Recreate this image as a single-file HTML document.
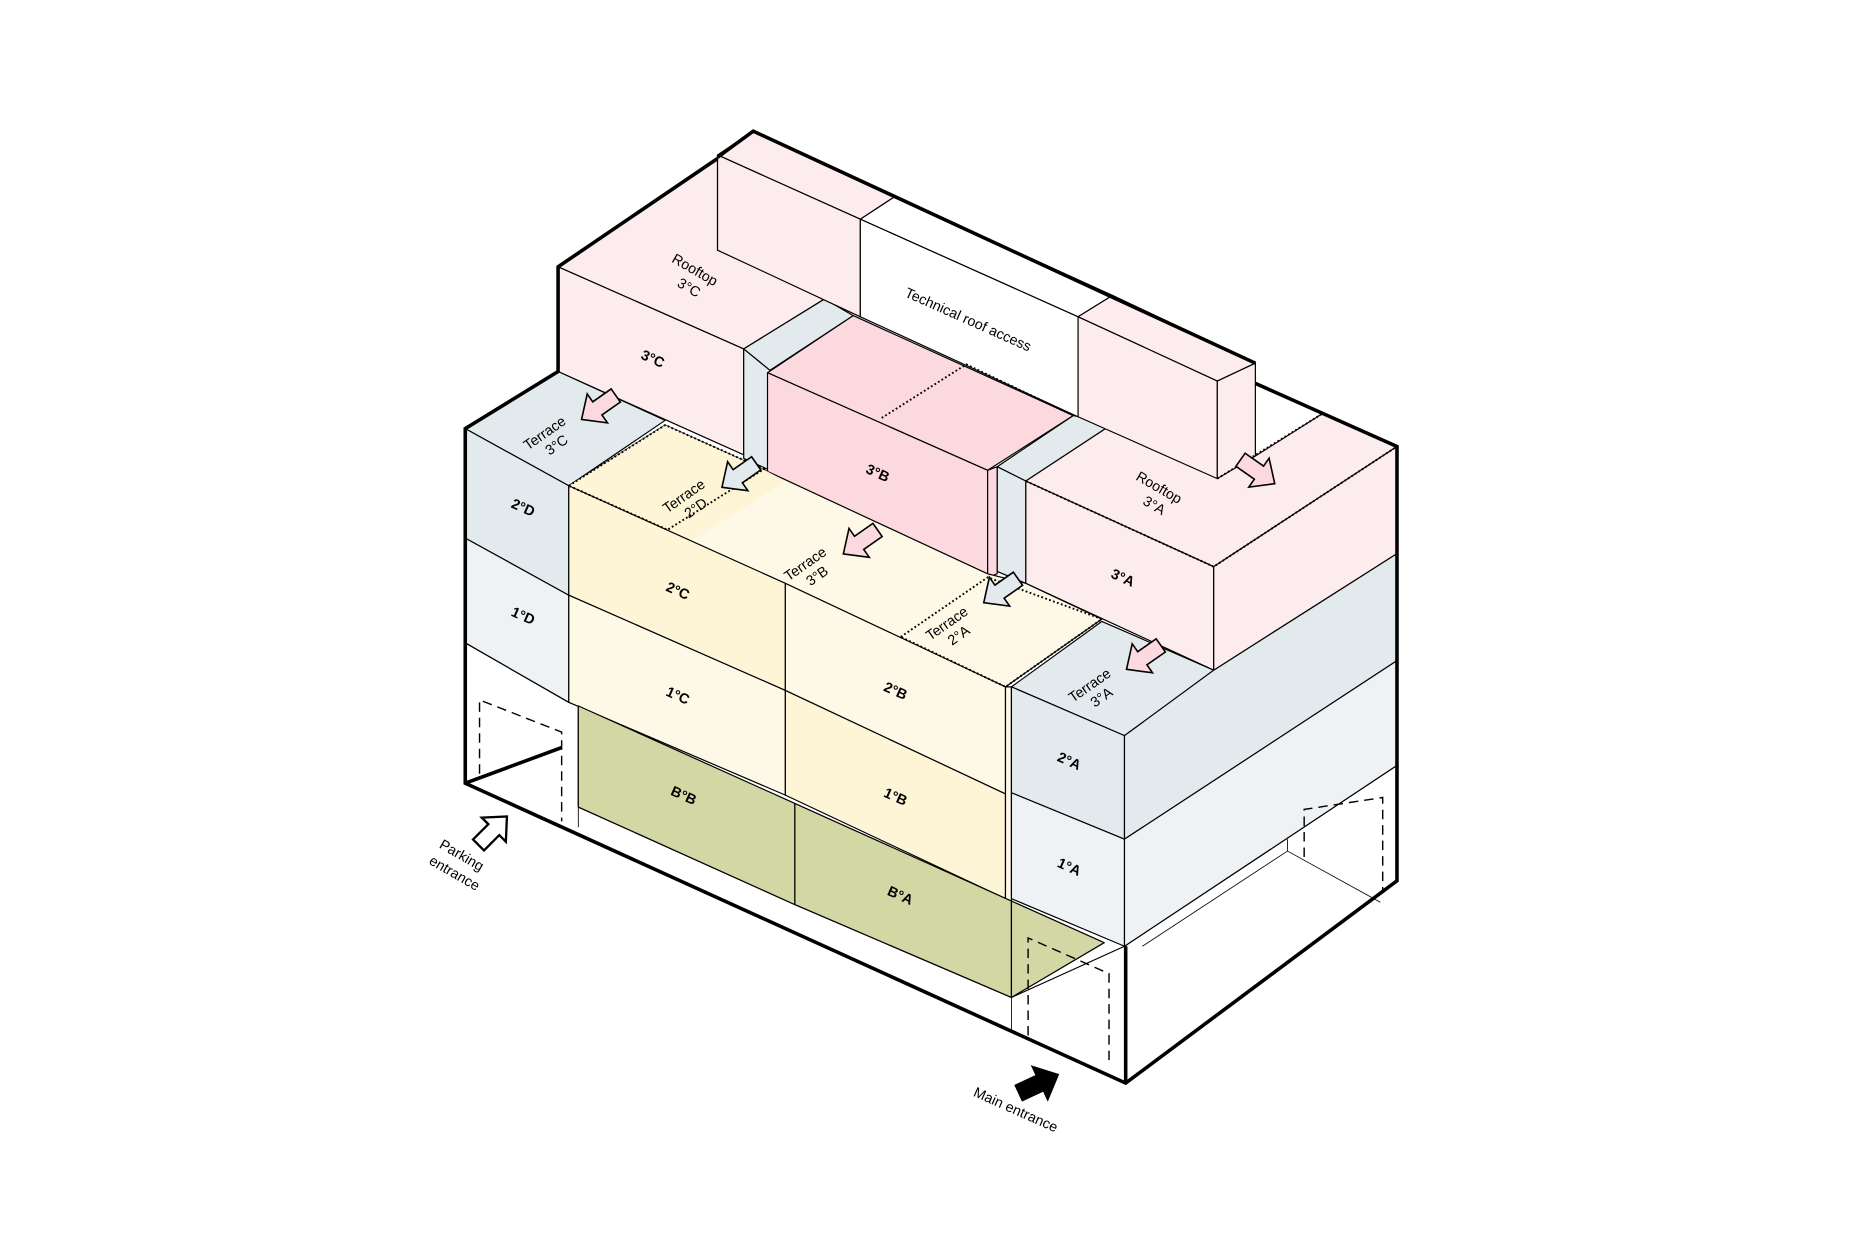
<!DOCTYPE html>
<html><head><meta charset="utf-8"><style>html,body{margin:0;padding:0;background:#fff}svg{display:block}</style></head>
<body>
<svg width="1867" height="1244" viewBox="0 0 1569 1045" xmlns="http://www.w3.org/2000/svg" font-family="Liberation Sans, sans-serif">
<defs>
<path id="arr" d="M-5,-14 L5,-14 L5,0 L11,0 L0,12 L-11,0 L-5,0 Z"/>
</defs>
<g stroke="#000" stroke-width="1" stroke-linejoin="round">
<polygon points="391,540 478,590 486,593 486,678 668,760 850,838 945,795 1174,643 1174,740 946,910 391,658" fill="#fff"/>
<polygon points="469,224 603,133 603,210 693,251 625,293" fill="#fdeced"/>
<polygon points="469,224 625,293 625,382 469,312" fill="#fdeced"/>
<polygon points="625,293 693,251 717,265 647,311" fill="#e3eaed"/>
<polygon points="625,293 647,311 647,395 625,385" fill="#e3eaed"/>
<polygon points="862,404 935,356 1055,383 1112,347 1174,375 1020,476" fill="#fdeced"/>
<polygon points="862,404 1020,476 1020,563 862,490" fill="#fdeced"/>
<polygon points="1020,476 1174,375 1174,465 1020,563" fill="#fdeced"/>
<polygon points="838,392 902,349 935,356 862,404" fill="#e3eaed"/>
<polygon points="838,392 862,404 862,490 838,480" fill="#e3eaed"/>
<polygon points="645,313 717,265 902,349 830,395" fill="#fbd9df"/>
<polygon points="645,313 830,395 830,485 645,400" fill="#fbd9df"/>
<polygon points="830,395 838,392 838,482 830,485" fill="#fbd9df"/>
<polygon points="603,130 633,110 752,165 723,184" fill="#fdeced"/>
<polygon points="603,130 723,184 723,266 603,210" fill="#fdeced"/>
<polygon points="723,184 752,165 935,248 906,266" fill="#fff"/>
<polygon points="723,184 906,266 906,350 723,266" fill="#fff"/>
<polygon points="906,266 935,248 1055,305 1023,320" fill="#fdeced"/>
<polygon points="906,266 1023,320 1023,402 906,350" fill="#fdeced"/>
<polygon points="1023,320 1055,305 1055,383 1023,402" fill="#fdeced"/>
<polygon points="391,360 469,312 559,353 478,408" fill="#e3eaed"/>
<polygon points="391,360 478,408 478,500 391,452" fill="#e3eaed"/>
<polygon points="391,452 478,500 478,590 391,540" fill="#eef2f5"/>
<polygon points="478,408 559,357 645,396 830,482 862,490 926,520 845,577" fill="#fdf9e6"/>
<polygon points="478,408 559,357 645,396 660,404 580,455" fill="#fdf5d6" stroke="none"/>
<polygon points="478,408 660,490 660,580 478,500" fill="#fdf5d6"/>
<polygon points="478,500 660,580 660,668 478,590" fill="#fdf9e6"/>
<polygon points="660,490 845,577 845,667 660,580" fill="#fdf9e6"/>
<polygon points="660,580 845,667 845,755 660,668" fill="#fdf5d6"/>
<polygon points="845,577 850,577 850,757 845,755" fill="#fdf9e6"/>
<polygon points="486,593 668,675 668,760 486,678" fill="#d2d7a4"/>
<polygon points="668,675 850,757 850,838 668,760" fill="#d2d7a4"/>
<polygon points="850,757 928,792 850,838" fill="#d2d7a4"/>
<polygon points="850,577 926,522 1020,563 945,618" fill="#e3eaed"/>
<polygon points="850,577 945,618 945,705 850,666" fill="#e3eaed"/>
<polygon points="945,618 1020,563 1174,465 1174,555 945,705" fill="#e3eaed"/>
<polygon points="850,666 945,705 945,795 850,755" fill="#eef2f5"/>
<polygon points="945,705 1174,555 1174,643 945,795" fill="#eef2f5"/>
</g>
<g stroke="#000" stroke-width="0.7" fill="none">
<line x1="486" y1="678" x2="486" y2="695"/>
<line x1="850" y1="838" x2="850" y2="865"/>
<polyline points="1082,705 1082,715 960,795"/>
<line x1="1082" y1="715" x2="1160" y2="758"/>
</g>
<g stroke="#000" stroke-width="1.2" fill="none" stroke-dasharray="8,5">
<polyline points="403,650 403,588 472,615 472,690"/>
<polyline points="864,870 864,788 932,818 932,895"/>
<polyline points="1096,720 1096,680 1162,670 1162,750"/>
</g>
<g stroke="#000" stroke-width="1.6" fill="none" stroke-dasharray="1.5,2">
<polygon points="478,408 559,357 642,394 561,445"/>
<polyline points="741,351 812,306 902,349"/>
<polygon points="757,535 830,485 926,520 845,577"/>
<polyline points="1023,402 1112,347 1174,375 1020,476 862,404"/>
</g>
<g stroke="#000" stroke-width="3" fill="none" stroke-linejoin="miter">
<polyline points="603,132 633,110 1055,305"/>
<polyline points="603,133 469,224 469,312 391,360 391,658 946,910 1174,740 1174,375 1055,322"/>
<line x1="391" y1="658" x2="472" y2="628"/>
<line x1="946" y1="910" x2="946" y2="795"/>
</g>
<g stroke="#000" stroke-width="1" fill="#fbd9df">
<use href="#arr" transform="translate(502,343) rotate(55) scale(1.35)"/>
<use href="#arr" transform="translate(722,456) rotate(55) scale(1.35)"/>
<use href="#arr" transform="translate(1058,397) rotate(-55) scale(1.35)"/>
<use href="#arr" transform="translate(960,553) rotate(55) scale(1.35)"/>
</g>
<g stroke="#000" stroke-width="1" fill="#e3eaed">
<use href="#arr" transform="translate(620,400) rotate(55) scale(1.35)"/>
<use href="#arr" transform="translate(840,497) rotate(55) scale(1.35)"/>
</g>
<use href="#arr" transform="translate(415,697) rotate(-135) scale(1.3)" fill="#fff" stroke="#000" stroke-width="1.5"/>
<use href="#arr" transform="translate(874,910) rotate(-115) scale(1.4)" fill="#000" stroke="#000"/>
<g font-size="12" font-weight="bold" text-anchor="middle">
<text transform="translate(547,305) rotate(24)">3°C</text>
<text transform="translate(736,401) rotate(24)">3°B</text>
<text transform="translate(942,489) rotate(24)">3°A</text>
<text transform="translate(438,430) rotate(24)">2°D</text>
<text transform="translate(438,521) rotate(24)">1°D</text>
<text transform="translate(568,500) rotate(24)">2°C</text>
<text transform="translate(568,588) rotate(24)">1°C</text>
<text transform="translate(751,584) rotate(24)">2°B</text>
<text transform="translate(751,673) rotate(24)">1°B</text>
<text transform="translate(573,672) rotate(24)">B°B</text>
<text transform="translate(755,756) rotate(24)">B°A</text>
<text transform="translate(897,643) rotate(24)">2°A</text>
<text transform="translate(897,732) rotate(24)">1°A</text>
</g>
<g font-size="12" text-anchor="middle">
<text transform="translate(812,272) rotate(24)">Technical roof access</text>
<text transform="translate(582,230) rotate(30)">Rooftop</text>
<text transform="translate(577,245) rotate(30)">3°C</text>
<text transform="translate(972,413) rotate(30)">Rooftop</text>
<text transform="translate(968,428) rotate(30)">3°A</text>
<text transform="translate(460,367) rotate(-35)">Terrace</text>
<text transform="translate(470,377) rotate(-35)">3°C</text>
<text transform="translate(577,420) rotate(-35)">Terrace</text>
<text transform="translate(587,430) rotate(-35)">2°D</text>
<text transform="translate(679,477) rotate(-35)">Terrace</text>
<text transform="translate(689,487) rotate(-35)">3°B</text>
<text transform="translate(798,527) rotate(-35)">Terrace</text>
<text transform="translate(808,537) rotate(-35)">2°A</text>
<text transform="translate(918,579) rotate(-35)">Terrace</text>
<text transform="translate(928,589) rotate(-35)">3°A</text>
<text transform="translate(386,722) rotate(30)">Parking</text>
<text transform="translate(380,737) rotate(30)">entrance</text>
<text transform="translate(852,936) rotate(24)">Main entrance</text>
</g>
</svg>
</body></html>
